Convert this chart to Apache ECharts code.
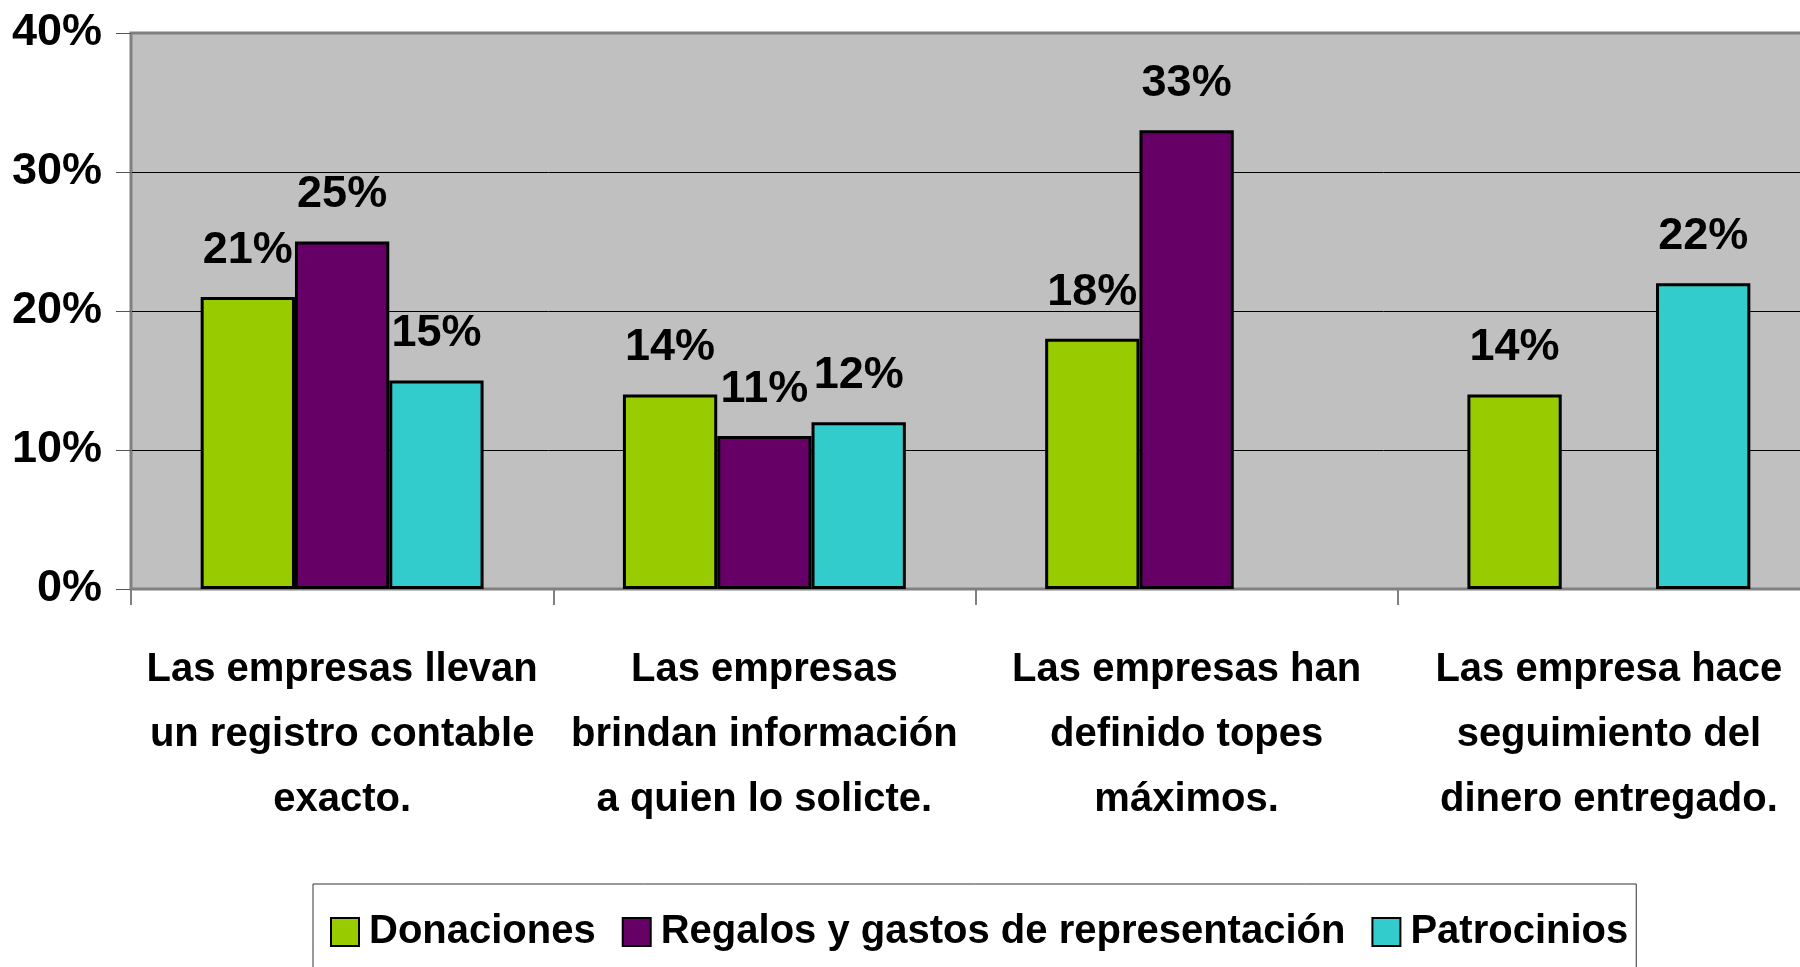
<!DOCTYPE html>
<html>
<head>
<meta charset="utf-8">
<script src="https://cdn.jsdelivr.net/npm/echarts@6/dist/echarts.min.js"></script>
<style>
  html, body { margin: 0; padding: 0; background: #ffffff; }
  #chart { width: 1800px; height: 967px; }
</style>
</head>
<body>
<div id="chart"></div>
<script>
const categories = [
  "Las empresas llevan\nun registro contable\nexacto.",
  "Las empresas\nbrindan información\na quien lo solicte.",
  "Las empresas han\ndefinido topes\nmáximos.",
  "Las empresa hace\nseguimiento del\ndinero entregado."
];
const seriesNames = ["Donaciones", "Regalos y gastos de representación", "Patrocinios"];
const donaciones = [21, 14, 18, 14];
const regalos = [25, 11, 33, null];
const patrocinios = [15, 12, null, 22];
const yTicks = { min: 0, max: 40, interval: 10 };

const FONT = '"Liberation Sans", Arial, Helvetica, sans-serif';
const colors = ['#99CC00', '#660066', '#33CCCC'];

function barSeries(name, data, color) {
  return {
    name: name,
    type: 'bar',
    data: data,
    barGap: '0%',
    barCategoryGap: '33%',
    itemStyle: { color: color, borderColor: '#000000', borderWidth: 3 },
    label: {
      show: true,
      position: 'top',
      distance: 24,
      formatter: '{c}%',
      color: '#000000',
      fontFamily: FONT,
      fontWeight: 'bold',
      fontSize: 45
    }
  };
}

const chart = echarts.init(document.getElementById('chart'), null, { renderer: 'canvas' });
chart.setOption({
  animation: false,
  backgroundColor: '#ffffff',
  color: colors,
  grid: {
    left: 131,
    top: 33,
    right: -20,
    bottom: 378,
    containLabel: false,
    outerBoundsMode: 'none',
    show: true,
    backgroundColor: '#C0C0C0',
    borderColor: '#808080',
    borderWidth: 3
  },
  legend: {
    left: 313,
    top: 884,
    orient: 'horizontal',
    icon: 'rect',
    itemWidth: 28,
    itemHeight: 28,
    itemGap: 26,
    padding: [28, 8, 40, 17],
    borderColor: '#333333',
    borderWidth: 1,
    backgroundColor: '#ffffff',
    textStyle: {
      fontFamily: FONT,
      fontWeight: 'bold',
      fontSize: 40,
      color: '#000000',
      padding: [0, 0, 0, 5]
    },
    data: seriesNames
  },
  xAxis: {
    type: 'category',
    data: categories,
    boundaryGap: true,
    axisLine: { show: true, lineStyle: { color: '#808080', width: 2 } },
    axisTick: { show: true, length: 16, lineStyle: { color: '#808080', width: 2 } },
    axisLabel: {
      interval: 0,
      margin: 48,
      lineHeight: 65,
      fontFamily: FONT,
      fontWeight: 'bold',
      fontSize: 40,
      color: '#000000',
      align: 'center'
    },
    splitLine: { show: false }
  },
  yAxis: {
    type: 'value',
    min: yTicks.min,
    max: yTicks.max,
    interval: yTicks.interval,
    axisLine: { show: true, lineStyle: { color: '#808080', width: 2 } },
    axisTick: { show: true, length: 15, lineStyle: { color: '#555555', width: 1 } },
    axisLabel: {
      margin: 29,
      formatter: '{value}%',
      fontFamily: FONT,
      fontWeight: 'bold',
      fontSize: 45,
      color: '#000000',
      padding: [10, 0, 0, 0]
    },
    splitLine: { show: true, showMaxLine: false, showMinLine: false, lineStyle: { color: '#000000', width: 1 } }
  },
  series: [
    barSeries(seriesNames[0], donaciones, colors[0]),
    barSeries(seriesNames[1], regalos, colors[1]),
    barSeries(seriesNames[2], patrocinios, colors[2])
  ]
});
</script>
</body>
</html>
